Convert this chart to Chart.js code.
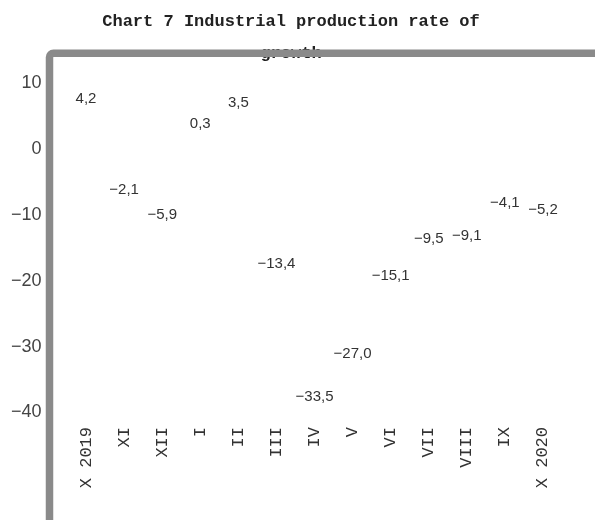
<!DOCTYPE html>
<html>
<head>
<meta charset="utf-8">
<title>Industrial production rate of growth</title>
<script src="https://cdn.jsdelivr.net/npm/chart.js@4/dist/chart.umd.min.js"></script>
<style>
  html, body { margin: 0; padding: 0; background: #ffffff; }
  #wrap { width: 595px; height: 520px; position: relative; }
</style>
</head>
<body>
<div id="wrap"><canvas id="chart" width="595" height="520"></canvas></div>
<script>
// Months, October 2019 to October 2020
const months = ['X 2019', 'XI', 'XII', 'I', 'II', 'III', 'IV', 'V', 'VI', 'VII', 'VIII', 'IX', 'X 2020'];
// Year-on-year growth rate, %
const growth = [4.2, -2.1, -5.9, 0.3, 3.5, -13.4, -33.5, -27.0, -15.1, -9.5, -9.1, -4.1, -5.2];
// Value axis labels
const yTicks = [10, 0, -10, -20, -30, -40];
const titleLines = ['Chart 7 Industrial production rate of', 'growth'];

const minus = s => s.replace('-', '\u2212');
const fmtValue = v => minus(v.toFixed(1).replace('.', ','));

// Writes each value next to the end of its (invisible) bar
const valueLabels = {
  id: 'valueLabels',
  afterDatasetsDraw(chart) {
    const ctx = chart.ctx;
    const meta = chart.getDatasetMeta(0);
    ctx.save();
    ctx.font = '15px "Liberation Sans", Arial, sans-serif';
    ctx.fillStyle = '#333333';
    ctx.textAlign = 'center';
    ctx.textBaseline = 'middle';
    meta.data.forEach((bar, i) => {
      const v = growth[i];
      const y = v >= 0 ? bar.y - 23 : bar.y + 27;
      ctx.fillText(fmtValue(v), bar.x, y);
    });
    ctx.restore();
  }
};

// Title is centred over the band between x = 20 and the plot's right edge
const titleBand = {
  id: 'titleBand',
  afterLayout(chart) {
    if (chart.titleBlock) {
      chart.titleBlock.left = 20;
      chart.titleBlock.width = chart.titleBlock.right - 20;
    }
  }
};

// Grey rounded frame along the top and left edges
const frame = {
  id: 'frame',
  afterDraw(chart) {
    const ctx = chart.ctx;
    const x = 49.5, y = 53.3, r = 4;
    ctx.save();
    ctx.strokeStyle = '#8a8a8a';
    ctx.lineWidth = 7.5;
    ctx.beginPath();
    ctx.moveTo(x, chart.height + 10);
    ctx.lineTo(x, y + r);
    ctx.arcTo(x, y, x + r, y, r);
    ctx.lineTo(chart.width + 10, y);
    ctx.stroke();
    ctx.restore();
  }
};

const noPadding = scale => {
  scale.paddingLeft = 0;
  scale.paddingRight = 0;
  scale.paddingTop = 0;
  scale.paddingBottom = 0;
};

new Chart(document.getElementById('chart'), {
  type: 'bar',
  data: {
    labels: months,
    datasets: [{
      data: growth,
      backgroundColor: 'rgba(0,0,0,0)',
      borderWidth: 0
    }]
  },
  options: {
    responsive: false,
    animation: false,
    layout: { padding: { left: 0, right: 33, top: 0, bottom: 0 } },
    plugins: {
      legend: { display: false },
      tooltip: { enabled: false },
      title: {
        display: true,
        text: titleLines,
        color: '#222222',
        font: { family: '"Liberation Mono", "Courier New", monospace', size: 17, weight: 'bold', lineHeight: '32px' },
        padding: { top: 6, bottom: 0 }
      }
    },
    scales: {
      x: {
        grid: { display: false, drawTicks: false },
        border: { display: false },
        ticks: {
          autoSkip: false,
          minRotation: 90,
          maxRotation: 90,
          padding: 4,
          color: '#333333',
          font: { family: '"Liberation Mono", "Courier New", monospace', size: 17 }
        },
        afterFit(scale) {
          scale.height = 97;
          noPadding(scale);
        }
      },
      y: {
        min: -41.6,
        max: 12,
        grid: { display: false, drawTicks: false },
        border: { display: false },
        ticks: {
          padding: 25.5,
          color: '#444444',
          font: { family: '"Liberation Sans", Arial, sans-serif', size: 18 },
          callback: v => minus(String(v))
        },
        afterBuildTicks(scale) {
          scale.ticks = yTicks.map(v => ({ value: v }));
        },
        afterFit(scale) {
          scale.width = 67;
          noPadding(scale);
        }
      }
    }
  },
  plugins: [valueLabels, titleBand, frame]
});
</script>
</body>
</html>
